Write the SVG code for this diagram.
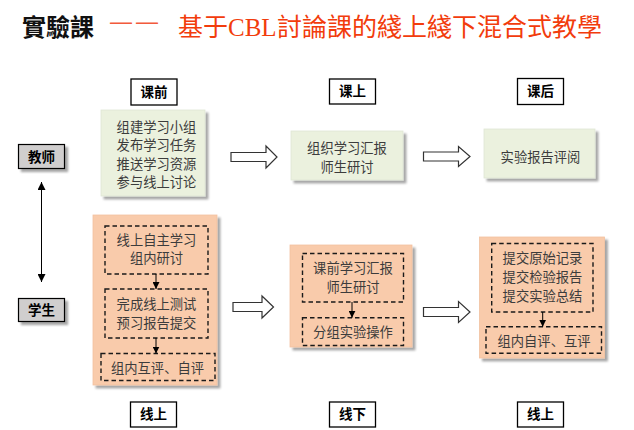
<svg xmlns="http://www.w3.org/2000/svg" width="634" height="430" viewBox="0 0 634 430">
<defs>
<filter id="sh" x="-10%" y="-10%" width="130%" height="130%">
<feDropShadow dx="3" dy="3" stdDeviation="1.3" flood-color="#000" flood-opacity="0.35"/>
</filter>
<marker id="ah" viewBox="0 0 8 8" refX="8" refY="4" markerWidth="7" markerHeight="7" markerUnits="userSpaceOnUse" orient="auto">
<path d="M0,0 L8,4 L0,8 Z" fill="#000"/>
</marker>
<marker id="ah2" viewBox="0 0 8 8" refX="8" refY="4" markerWidth="8" markerHeight="8" markerUnits="userSpaceOnUse" orient="auto-start-reverse">
<path d="M0,0 L8,4 L0,8 Z" fill="#000"/>
</marker>
</defs>
<style>
.t{font-family:"Noto Sans CJK SC","Noto Sans",sans-serif;font-size:13.3px;fill:#3c3c3c;text-anchor:middle}
.lb{font-family:"Noto Sans CJK SC","Noto Sans",sans-serif;font-size:13.5px;font-weight:bold;fill:#000;text-anchor:middle}
.lbox{fill:#fff;stroke:#000;stroke-width:1.3}
.gbox{fill:#d0cece;stroke:#000;stroke-width:1.2}
.green{fill:#ebf1de;stroke:#dfe6d5;stroke-width:0.8}
.orange{fill:#f9cbab;stroke:#f2c1a0;stroke-width:0.8}
.dash{fill:none;stroke:#1a1a1a;stroke-width:1.4;stroke-dasharray:4.5,3}
.hol{fill:#fff;stroke:#333;stroke-width:1.2;stroke-linejoin:miter}
.ln{stroke:#000;stroke-width:1;fill:none}
.red{font-family:"Noto Sans CJK TC","Noto Sans CJK SC",sans-serif;font-size:25px;fill:#f23c0c}
</style>
<rect width="634" height="430" fill="#fff"/>

<g id="title">
<text x="22" y="35.5" style="font-family:'Noto Sans CJK TC','Noto Sans CJK SC',sans-serif;font-size:24px;font-weight:bold;fill:#111">實驗課</text>
<text x="110" y="29" style="font-family:'Liberation Sans',sans-serif;font-size:22px;fill:#f25a3c;letter-spacing:4px">——</text>
<text class="red" y="36"><tspan x="178">基于</tspan><tspan x="228" style="font-family:'Liberation Serif',serif">CBL</tspan><tspan x="277">討論課的綫上綫下混合式教學</tspan></text>
</g>

<g id="label-kq"><rect class="lbox" x="131" y="79" width="46" height="26"/><text class="lb" x="154" y="96.8">课前</text></g>
<g id="label-ks"><rect class="lbox" x="329.5" y="79" width="46" height="25"/><text class="lb" x="352.5" y="96.3">课上</text></g>
<g id="label-kh"><rect class="lbox" x="517.5" y="78.5" width="46" height="26"/><text class="lb" x="540.5" y="96.3">课后</text></g>
<g id="label-xs1"><rect class="lbox" x="130.5" y="402" width="46" height="25"/><text class="lb" x="153.5" y="419.3">线上</text></g>
<g id="label-xx"><rect class="lbox" x="329.5" y="402" width="46" height="25"/><text class="lb" x="352.5" y="419.3">线下</text></g>
<g id="label-xs2"><rect class="lbox" x="517.5" y="402" width="46" height="25"/><text class="lb" x="540.5" y="419.3">线上</text></g>

<g id="teacher"><rect class="gbox" x="18.5" y="144.5" width="46" height="24" filter="url(#sh)"/><text class="lb" x="41.5" y="161.5">教师</text></g>
<g id="student"><rect class="gbox" x="18.5" y="298.5" width="46" height="23" filter="url(#sh)"/><text class="lb" x="41.5" y="315">学生</text></g>

<g id="t1"><rect class="green" x="101" y="110" width="104" height="86" filter="url(#sh)"/>
<text class="t" x="156.5" y="131.6">组建学习小组</text>
<text class="t" x="156.5" y="150.4">发布学习任务</text>
<text class="t" x="156.5" y="168.6">推送学习资源</text>
<text class="t" x="156.5" y="187.2">参与线上讨论</text>
</g>
<g id="t2"><rect class="green" x="291" y="131" width="112" height="49" filter="url(#sh)"/>
<text class="t" x="347" y="153.2">组织学习汇报</text>
<text class="t" x="347" y="171.6">师生研讨</text>
</g>
<g id="t3"><rect class="green" x="484" y="129" width="111" height="49" filter="url(#sh)"/>
<text class="t" x="540.5" y="162">实验报告评阅</text>
</g>

<g id="s1"><rect class="orange" x="93" y="215" width="124" height="170" filter="url(#sh)"/>
<rect class="dash" x="105" y="226" width="103" height="48"/>
<text class="t" x="156.5" y="244.9">线上自主学习</text>
<text class="t" x="156.5" y="263.2">组内研讨</text>
<rect class="dash" x="105" y="289" width="103" height="49"/>
<text class="t" x="156.5" y="308.9">完成线上测试</text>
<text class="t" x="156.5" y="327.9">预习报告提交</text>
<rect class="dash" x="101" y="353.5" width="114" height="27"/>
<text class="t" x="157.5" y="372.9">组内互评、自评</text>
</g>
<g id="s2"><rect class="orange" x="290" y="245" width="122" height="102" filter="url(#sh)"/>
<rect class="dash" x="302.5" y="253.5" width="101" height="48.5"/>
<text class="t" x="353" y="273.2">课前学习汇报</text>
<text class="t" x="353" y="292.2">师生研讨</text>
<rect class="dash" x="302.5" y="317.7" width="101" height="27.8"/>
<text class="t" x="353" y="337.2">分组实验操作</text>
</g>
<g id="s3"><rect class="orange" x="479.5" y="237" width="125" height="121" filter="url(#sh)"/>
<rect class="dash" x="491.7" y="243.5" width="101.3" height="68.5"/>
<text class="t" x="542.5" y="262.6">提交原始记录</text>
<text class="t" x="542.5" y="281.6">提交检验报告</text>
<text class="t" x="542.5" y="300.6">提交实验总结</text>
<rect class="dash" x="486" y="326.7" width="115.5" height="26.6"/>
<text class="t" x="544" y="345.9">组内自评、互评</text>
</g>

<g id="connectors">
<line class="ln" x1="41.5" y1="182" x2="41.5" y2="282" marker-start="url(#ah2)" marker-end="url(#ah2)"/>
<line class="ln" x1="156" y1="274" x2="156" y2="289" marker-end="url(#ah)"/>
<line class="ln" x1="156" y1="338" x2="156" y2="353.5" marker-end="url(#ah)"/>
<line class="ln" x1="352" y1="302" x2="352" y2="317.7" marker-end="url(#ah)"/>
<line class="ln" x1="542.7" y1="312" x2="542.7" y2="326.7" marker-end="url(#ah)"/>
<path class="hol" d="M231,152.5 H266 V146 L277,157 L266,168 V161.5 H231 Z"/>
<path class="hol" d="M233,302.5 H262 V296 L273.5,307 L262,318 V311.5 H233 Z"/>
<path class="hol" d="M423.5,152 H458.5 V146.5 L470,156.5 L458.5,166.5 V161 H423.5 Z"/>
<path class="hol" d="M423.5,307.5 H458.5 V301.5 L470,312 L458.5,322.5 V316.5 H423.5 Z"/>
</g>
</svg>
